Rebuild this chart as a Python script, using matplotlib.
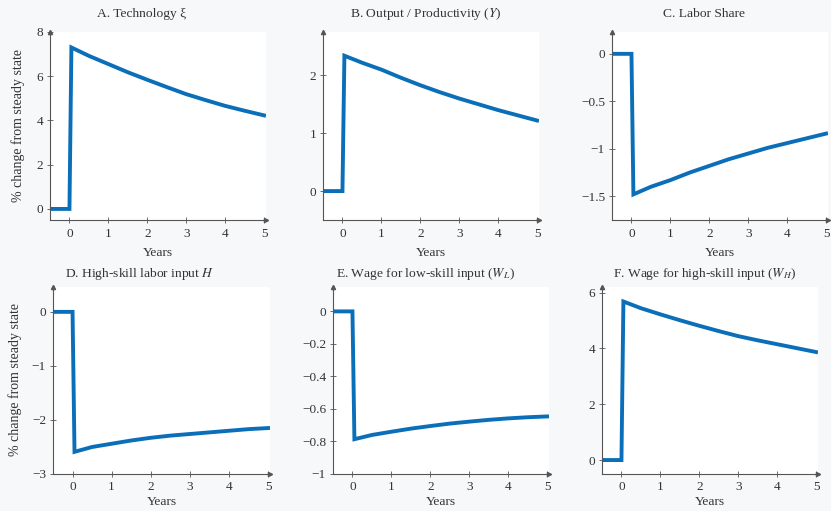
import matplotlib.pyplot as plt

plt.rcParams['font.family'] = ['Liberation Serif', 'DejaVu Serif']
plt.rcParams['mathtext.fontset'] = 'stix'

# impulse responses, % change from steady state
years = [-0.5, 0.0, 0.05, 0.5, 1.0, 1.5, 2.0, 2.5, 3.0, 3.5, 4.0, 4.5, 5.0]
tech = [0, 0, 7.30, 6.92, 6.55, 6.18, 5.84, 5.51, 5.19, 4.92, 4.66, 4.44, 4.23]
output = [0, 0, 2.34, 2.22, 2.10, 1.96, 1.83, 1.71, 1.60, 1.50, 1.40, 1.31, 1.22]
labshare = [0, 0, -1.48, -1.40, -1.33, -1.25, -1.18, -1.11, -1.05, -0.99, -0.94, -0.89, -0.84]
hinput = [0, 0, -2.59, -2.50, -2.44, -2.38, -2.33, -2.29, -2.26, -2.23, -2.20, -2.17, -2.15]
wage_low = [0, 0, -0.786, -0.76, -0.740, -0.721, -0.705, -0.690, -0.678, -0.667, -0.658, -0.651, -0.646]
wage_high = [0, 0, 5.68, 5.44, 5.22, 5.01, 4.81, 4.62, 4.44, 4.29, 4.15, 4.01, 3.87]

titles = ['A. Technology ξ',
          'B. Output / Productivity ($Y$)',
          'C. Labor Share',
          'D. High-skill labor input $H$',
          'E. Wage for low-skill input ($W_L$)',
          'F. Wage for high-skill input ($W_H$)']
series = [tech, output, labshare, hinput, wage_low, wage_high]
ylims = [(-0.5, 8), (-0.5, 2.75), (-1.75, 0.23), (-3, 0.46), (-1, 0.15), (-0.5, 6.2)]
yticks = [[0, 2, 4, 6, 8], [0, 1, 2], [-1.5, -1, -0.5, 0], [-3, -2, -1, 0],
          [-1, -0.8, -0.6, -0.4, -0.2, 0], [0, 2, 4, 6]]
ytlabels = [None, None, ['\u22121.5', '\u22121', '\u22120.5', '0'], None,
            ['\u22121', '\u22120.8', '\u22120.6', '\u22120.4', '\u22120.2', '0'], None]

W, H = 831, 511
# axes boxes in pixels: left, right, top, bottom
boxes = [(50, 266, 32, 220), (323, 539, 32, 220), (612, 828, 32, 220),
         (53, 270, 287, 474), (333, 549, 287, 474), (602, 818, 287, 474)]
# title centres in pixels
title_xy = [(142, 14), (426, 14), (704, 14), (140, 274), (425, 274), (705, 274)]

txt = '#333333'
axcol = '#555555'
blue = '#0a6fb8'

fig = plt.figure(figsize=(W / 100, H / 100), dpi=100, facecolor='#f7f8f9')

for i in range(6):
    l, r, t, b = boxes[i]
    ax = fig.add_axes([l / W, 1 - b / H, (r - l) / W, (b - t) / H])
    ax.set_facecolor('white')
    ax.plot(years, series[i], color=blue, lw=2.8, solid_joinstyle='miter')
    ax.set_xlim(-0.5, 5.05)
    ax.set_ylim(*ylims[i])
    ax.set_xticks([0, 1, 2, 3, 4, 5])
    ax.set_yticks(yticks[i])
    if ytlabels[i] is not None:
        ax.set_yticklabels(ytlabels[i])
    for s in ['top', 'right']:
        ax.spines[s].set_visible(False)
    for s in ['left', 'bottom']:
        ax.spines[s].set_color(axcol)
        ax.spines[s].set_linewidth(0.8)
    ax.tick_params(direction='inout', length=4, width=0.6, color=axcol,
                   labelcolor=txt, labelsize=9.5)
    ax.tick_params(axis='x', pad=4 if i < 3 else 3)
    ax.tick_params(axis='y', pad=3)
    # arrow heads at the ends of the axis lines
    ax.plot(1, 0, '>', color=axcol, ms=3, transform=ax.transAxes, clip_on=False)
    ax.plot(0, 1, '^', color=axcol, ms=3, transform=ax.transAxes, clip_on=False)
    tx, ty = title_xy[i]
    fig.text(tx / W, 1 - ty / H, titles[i], color=txt, fontsize=9.7,
             ha='center', va='center')
    ax.set_xlabel('Years', color=txt, fontsize=9.7, labelpad=5 if i < 3 else 2)

fig.text(18 / W, 1 - 126 / H, '% change from steady state', color=txt, fontsize=10,
         rotation=90, ha='center', va='center')
fig.text(15 / W, 1 - 380 / H, '% change from steady state', color=txt, fontsize=10,
         rotation=90, ha='center', va='center')

fig.savefig('out.png', dpi=100, facecolor=fig.get_facecolor())
